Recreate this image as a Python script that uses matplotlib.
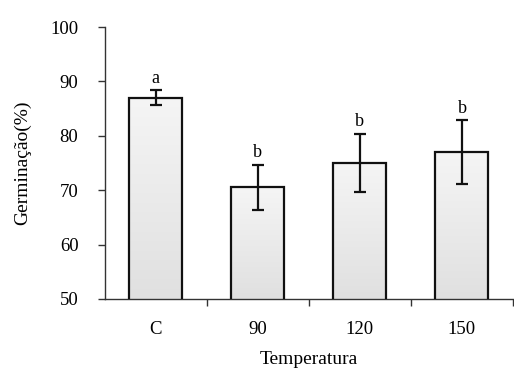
import matplotlib
matplotlib.use("Agg")
import matplotlib.pyplot as plt
from matplotlib.colors import LinearSegmentedColormap
import numpy as np

categories = ["C", "90", "120", "150"]
germination = [87.0, 70.5, 75.0, 77.0]
errors = [1.4, 4.2, 5.4, 5.9]
letters = ["a", "b", "b", "b"]

plt.rcParams['font.family'] = ['Liberation Serif', 'DejaVu Serif']

fig = plt.figure(figsize=(5.14, 3.76), dpi=100)
ax = fig.add_axes([0.204, 0.205, 0.794, 0.723])

x = np.arange(len(categories))
bars = ax.bar(x, germination, width=0.52, color='none', edgecolor='#111111',
              linewidth=1.6, zorder=3)

# very light grey gradient inside each bar
cmap = LinearSegmentedColormap.from_list('barfill', ['#f5f5f5', '#e0e0e0'])
grad = np.linspace(0, 1, 256).reshape(-1, 1)
for b in bars:
    x0, w = b.get_x(), b.get_width()
    im = ax.imshow(grad, cmap=cmap, aspect='auto',
                   extent=[x0, x0 + w, 50, b.get_height()], origin='upper',
                   zorder=2)
    im.set_clip_path(b)

ax.errorbar(x, germination, yerr=errors, fmt='none', ecolor='#111111',
            elinewidth=1.6, capsize=4.5, capthick=1.6, zorder=4)

for xi, v, e, t in zip(x, germination, errors, letters):
    ax.text(xi, v + e + 0.6, t, ha='center', va='bottom', fontsize=13)

ax.set_xlim(-0.5, 3.5)
ax.set_ylim(50, 100)
ax.set_yticks([50, 60, 70, 80, 90, 100])
ax.set_xticks(x)
ax.set_xticklabels(categories)
ax.set_xticks([0.5, 1.5, 2.5, 3.5], minor=True)

ax.spines['top'].set_visible(False)
ax.spines['right'].set_visible(False)
for s in ['left', 'bottom']:
    ax.spines[s].set_color('#333333')
    ax.spines[s].set_linewidth(1.0)

ax.tick_params(axis='y', direction='out', length=5, width=1, color='#333333',
               pad=14, labelsize=13.5)
ax.tick_params(axis='x', which='major', length=0, pad=16, labelsize=13.5)
ax.tick_params(axis='x', which='minor', direction='out', length=5, width=1,
               color='#333333')

ax.set_ylabel("Germinação(%)", fontsize=14, labelpad=14)
ax.set_xlabel("Temperatura", fontsize=14, labelpad=9)

fig.savefig("out.png", dpi=100)
